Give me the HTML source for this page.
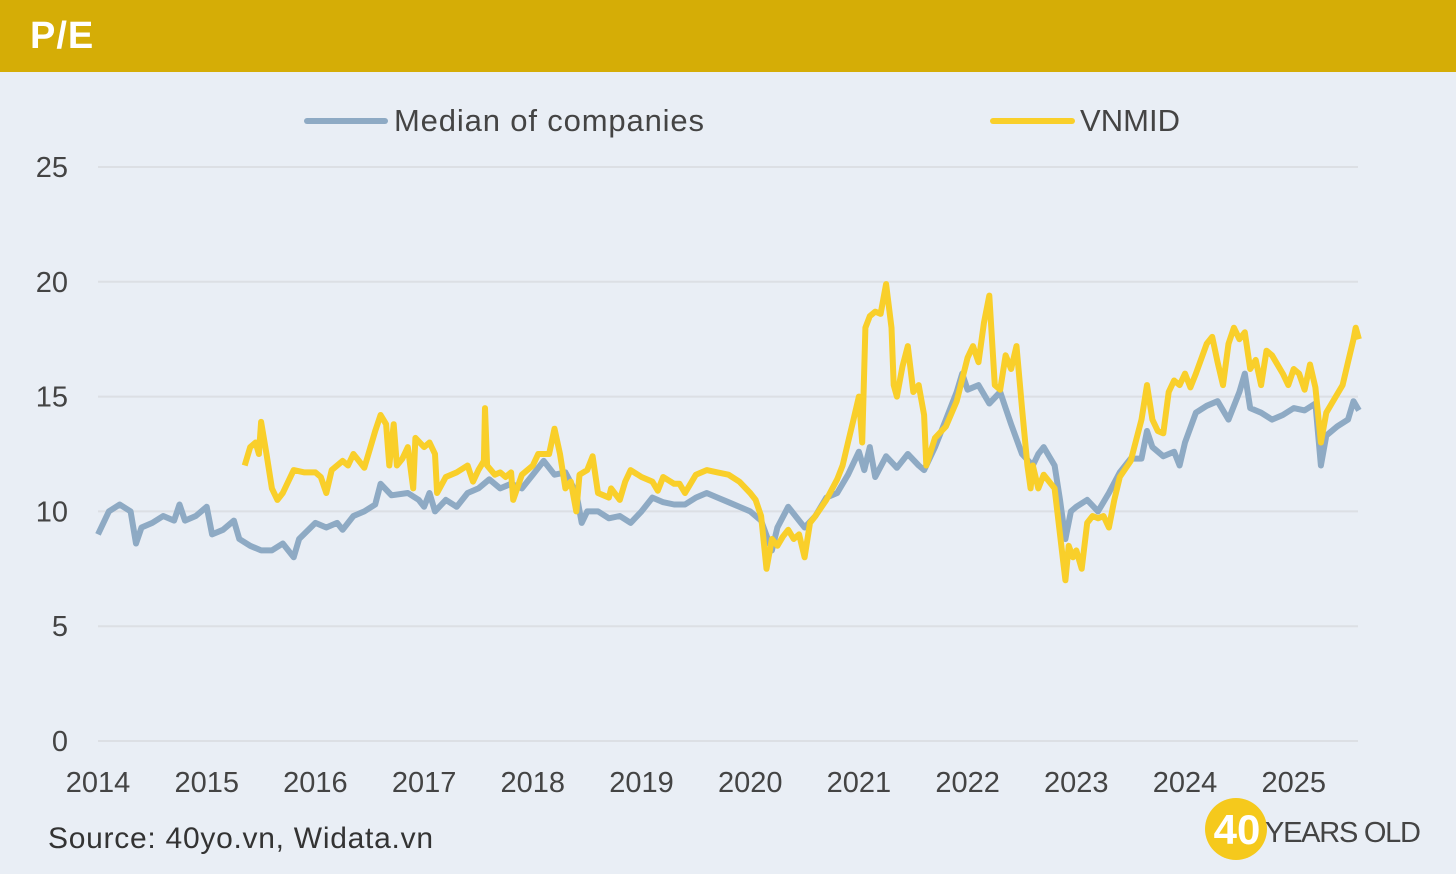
<!DOCTYPE html>
<html><head><meta charset="utf-8"><style>
body{margin:0;width:1456px;height:874px;background:#e9eef5;font-family:"Liberation Sans",sans-serif;overflow:hidden;position:relative}
#hdr{position:absolute;left:0;top:0;width:1456px;height:72px;background:#d5ad06}
#hdr span{position:absolute;left:30px;top:15px;color:#fff;font-weight:bold;font-size:38px;letter-spacing:1px}
</style></head><body>
<div id="hdr"><span>P/E</span></div>
<svg id="c" width="1456" height="874" style="position:absolute;left:0;top:0"></svg>
<script>
const yTicks=[0,5,10,15,20,25];
const xTicks=[2014,2015,2016,2017,2018,2019,2020,2021,2022,2023,2024,2025];
const medDates=[2014.0,2014.1,2014.2,2014.3,2014.35,2014.4,2014.5,2014.6,2014.7,2014.75,2014.8,2014.9,2015.0,2015.05,2015.15,2015.25,2015.3,2015.4,2015.5,2015.6,2015.7,2015.8,2015.85,2016.0,2016.1,2016.2,2016.25,2016.35,2016.45,2016.55,2016.6,2016.7,2016.85,2016.95,2017.0,2017.05,2017.1,2017.2,2017.3,2017.4,2017.5,2017.6,2017.7,2017.8,2017.9,2018.0,2018.1,2018.2,2018.3,2018.4,2018.45,2018.5,2018.6,2018.7,2018.8,2018.9,2019.0,2019.1,2019.2,2019.3,2019.4,2019.5,2019.6,2019.7,2019.8,2019.9,2020.0,2020.05,2020.1,2020.2,2020.25,2020.35,2020.45,2020.5,2020.6,2020.7,2020.8,2020.9,2021.0,2021.05,2021.1,2021.15,2021.25,2021.35,2021.45,2021.55,2021.6,2021.7,2021.8,2021.9,2021.95,2022.0,2022.1,2022.2,2022.3,2022.35,2022.4,2022.5,2022.6,2022.65,2022.7,2022.8,2022.85,2022.9,2022.95,2023.0,2023.1,2023.2,2023.3,2023.4,2023.5,2023.6,2023.65,2023.7,2023.8,2023.9,2023.95,2024.0,2024.1,2024.2,2024.3,2024.4,2024.5,2024.55,2024.6,2024.7,2024.8,2024.9,2025.0,2025.1,2025.2,2025.25,2025.3,2025.4,2025.5,2025.55,2025.6];
const medVals=[9.0,10.0,10.3,10.0,8.6,9.3,9.5,9.8,9.6,10.3,9.6,9.8,10.2,9.0,9.2,9.6,8.8,8.5,8.3,8.3,8.6,8.0,8.8,9.5,9.3,9.5,9.2,9.8,10.0,10.3,11.2,10.7,10.8,10.5,10.2,10.8,10.0,10.5,10.2,10.8,11.0,11.4,11.0,11.2,11.0,11.6,12.2,11.6,11.7,10.8,9.5,10.0,10.0,9.7,9.8,9.5,10.0,10.6,10.4,10.3,10.3,10.6,10.8,10.6,10.4,10.2,10.0,9.8,9.6,8.3,9.3,10.2,9.6,9.3,9.8,10.6,10.8,11.6,12.6,11.8,12.8,11.5,12.4,11.9,12.5,12.0,11.8,12.8,14.0,15.2,16.0,15.3,15.5,14.7,15.2,14.5,13.8,12.5,12.0,12.5,12.8,12.0,10.5,8.8,10.0,10.2,10.5,10.0,10.8,11.7,12.3,12.3,13.5,12.8,12.4,12.6,12.0,13.0,14.3,14.6,14.8,14.0,15.2,16.0,14.5,14.3,14.0,14.2,14.5,14.4,14.7,12.0,13.3,13.7,14.0,14.8,14.4];
const vnDates=[2015.35,2015.4,2015.45,2015.48,2015.5,2015.55,2015.6,2015.65,2015.7,2015.8,2015.9,2016.0,2016.05,2016.1,2016.15,2016.25,2016.3,2016.35,2016.4,2016.45,2016.5,2016.55,2016.6,2016.65,2016.68,2016.72,2016.75,2016.8,2016.85,2016.9,2016.92,2017.0,2017.05,2017.1,2017.12,2017.2,2017.3,2017.4,2017.45,2017.5,2017.55,2017.56,2017.58,2017.65,2017.7,2017.75,2017.8,2017.82,2017.9,2018.0,2018.05,2018.1,2018.15,2018.2,2018.25,2018.3,2018.35,2018.4,2018.43,2018.5,2018.55,2018.6,2018.65,2018.7,2018.72,2018.8,2018.85,2018.9,2019.0,2019.1,2019.15,2019.2,2019.3,2019.35,2019.4,2019.5,2019.6,2019.7,2019.8,2019.9,2020.0,2020.05,2020.1,2020.15,2020.2,2020.25,2020.3,2020.35,2020.4,2020.45,2020.5,2020.55,2020.6,2020.7,2020.8,2020.85,2020.9,2020.95,2021.0,2021.03,2021.06,2021.1,2021.15,2021.2,2021.25,2021.3,2021.32,2021.35,2021.4,2021.45,2021.5,2021.55,2021.6,2021.62,2021.7,2021.8,2021.9,2022.0,2022.05,2022.1,2022.15,2022.2,2022.25,2022.3,2022.35,2022.4,2022.45,2022.5,2022.55,2022.58,2022.6,2022.65,2022.7,2022.8,2022.85,2022.9,2022.93,2022.97,2023.0,2023.05,2023.1,2023.15,2023.2,2023.25,2023.3,2023.35,2023.4,2023.5,2023.6,2023.65,2023.7,2023.75,2023.8,2023.85,2023.9,2023.95,2024.0,2024.05,2024.1,2024.2,2024.25,2024.3,2024.35,2024.4,2024.45,2024.5,2024.55,2024.6,2024.65,2024.7,2024.75,2024.8,2024.9,2024.95,2025.0,2025.05,2025.1,2025.15,2025.2,2025.25,2025.3,2025.35,2025.45,2025.5,2025.55,2025.57,2025.6];
const vnVals=[12.0,12.8,13.0,12.5,13.9,12.5,11.0,10.5,10.8,11.8,11.7,11.7,11.5,10.8,11.8,12.2,12.0,12.5,12.2,11.9,12.7,13.5,14.2,13.8,12.0,13.8,12.0,12.3,12.8,11.0,13.2,12.8,13.0,12.5,10.8,11.5,11.7,12.0,11.3,11.8,12.2,14.5,12.0,11.6,11.7,11.5,11.7,10.5,11.6,12.0,12.5,12.5,12.5,13.6,12.5,11.0,11.3,10.0,11.6,11.8,12.4,10.8,10.7,10.6,11.0,10.5,11.3,11.8,11.5,11.3,10.9,11.5,11.2,11.2,10.8,11.6,11.8,11.7,11.6,11.3,10.8,10.5,9.8,7.5,8.8,8.5,8.9,9.2,8.8,9.0,8.0,9.5,9.8,10.5,11.4,12.0,13.0,14.0,15.0,13.0,18.0,18.5,18.7,18.6,19.9,18.0,15.5,15.0,16.3,17.2,15.2,15.5,14.2,12.0,13.2,13.7,14.8,16.7,17.2,16.5,18.2,19.4,15.5,15.3,16.8,16.2,17.2,14.5,12.0,11.0,12.0,11.0,11.6,11.0,9.0,7.0,8.5,8.0,8.3,7.5,9.5,9.8,9.7,9.8,9.3,10.5,11.5,12.2,14.0,15.5,14.0,13.5,13.4,15.2,15.7,15.5,16.0,15.4,16.0,17.3,17.6,16.5,15.5,17.3,18.0,17.5,17.8,16.2,16.6,15.5,17.0,16.8,16.0,15.5,16.2,16.0,15.3,16.4,15.4,13.0,14.3,14.7,15.5,16.5,17.5,18.0,17.5];

const NS='http://www.w3.org/2000/svg';
const svg=document.getElementById('c');
const X=d=>98+(d-2014)*108.7;
const Y=v=>741-v*22.96;
function mk(tag,attrs,txt){const e=document.createElementNS(NS,tag);for(const k in attrs)e.setAttribute(k,attrs[k]);if(txt!==undefined)e.textContent=txt;svg.appendChild(e);return e;}
yTicks.forEach(t=>{
  const g=mk('line',{x1:98,x2:1358,y1:Y(t),y2:Y(t),stroke:'#dcdfe4','stroke-width':2});
  
  
  const l=mk('text',{x:68,y:Y(t)+10,'text-anchor':'end','font-size':29,fill:'#444'},String(t));
  
  
});
xTicks.forEach(t=>{
  const l=mk('text',{x:X(t),y:792,'text-anchor':'middle','font-size':29,fill:'#444'},String(t));
  
  
});
function series(dates,vals,color,name){
  const pts=dates.map((d,i)=>X(d).toFixed(1)+','+Y(vals[i]).toFixed(1)).join(' ');
  const p=mk('polyline',{points:pts,fill:'none',stroke:color,'stroke-width':6,'stroke-linejoin':'round'});
  
  
}
series(medDates,medVals,'#8eaac4','median-line');
series(vnDates,vnVals,'#f9cf2a','vnmid-line');
let e;
e=mk('line',{x1:307,x2:385,y1:121,y2:121,stroke:'#8eaac4','stroke-width':6,'stroke-linecap':'round'});


e=mk('text',{x:394,y:131,'font-size':31,fill:'#444',textLength:310},'Median of companies');


e=mk('line',{x1:993,x2:1072,y1:121,y2:121,stroke:'#f9cf2a','stroke-width':6,'stroke-linecap':'round'});


e=mk('text',{x:1080,y:131,'font-size':31,fill:'#444',textLength:100},'VNMID');


e=mk('text',{x:48,y:848,'font-size':30,fill:'#333',textLength:385},'Source: 40yo.vn, Widata.vn');


e=mk('circle',{cx:1236,cy:829,r:31,fill:'#f5c91c'});


e=mk('text',{x:1237,y:844,'text-anchor':'middle','font-size':42,'font-weight':'bold',fill:'#fff'},'40');


e=mk('text',{x:1265,y:842,'font-size':29,fill:'#444',textLength:156},'YEARS OLD');


</script>
</body></html>
